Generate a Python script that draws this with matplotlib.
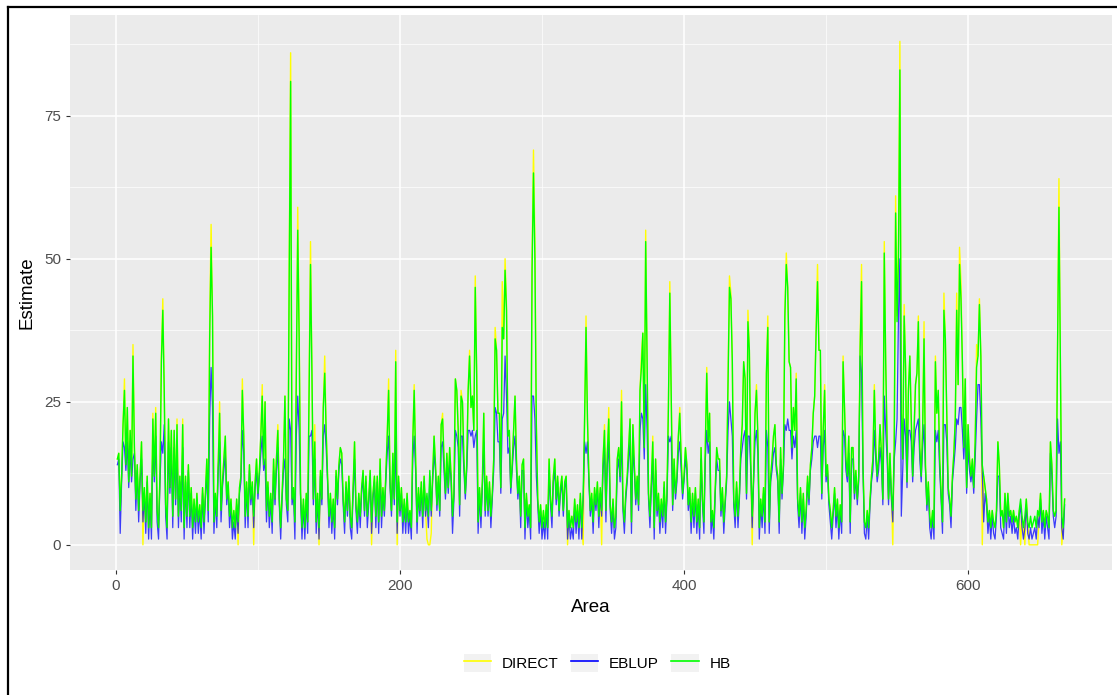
import numpy as np
import matplotlib
matplotlib.use("Agg")
import matplotlib.pyplot as plt
from matplotlib.lines import Line2D
from matplotlib.patches import Patch
from matplotlib.legend_handler import HandlerTuple

plt.rcParams['font.family'] = ['Liberation Sans', 'DejaVu Sans']

# estimates per area (1..668)
hb = [
    15,16,6,12,21,27,14,24,11,20,12,33,17,8,14,6,12,18,6,10,
    4,12,3,9,3,22,12,23,6,3,12,32,41,27,7,3,22,10,20,5,
    20,8,21,5,12,6,21,3,12,5,14,5,10,3,8,4,9,4,7,3,
    10,4,9,15,6,36,52,40,4,9,5,14,23,6,11,15,19,8,11,5,
    8,3,6,3,8,4,10,12,27,19,5,11,5,14,8,11,5,11,15,9,
    13,19,26,14,25,6,11,5,9,4,15,8,15,20,8,3,9,15,26,8,
    6,47,81,8,10,4,29,55,36,9,3,8,3,9,4,26,49,30,8,18,
    4,9,3,13,8,24,30,20,12,5,9,4,8,3,13,8,14,17,16,8,
    4,11,6,12,5,3,10,18,7,4,9,5,10,13,6,12,5,8,13,4,
    9,12,5,12,4,15,5,10,6,12,19,27,11,6,16,8,32,4,12,6,
    10,4,8,4,9,4,6,3,18,27,15,4,10,6,11,5,12,6,9,5,
    13,6,12,19,14,7,12,6,21,22,15,9,16,10,17,12,5,9,29,27,
    20,7,26,25,15,9,14,27,33,24,26,20,45,30,4,10,5,11,23,6,
    12,6,11,5,9,15,36,34,23,23,10,38,36,48,41,19,20,10,14,20,
    26,15,9,12,5,14,15,3,9,5,7,3,48,65,50,21,8,4,7,3,
    6,3,7,3,15,8,5,12,15,8,12,6,10,12,6,11,12,3,6,3,
    5,3,8,4,7,3,9,3,9,22,38,22,12,6,9,4,10,7,11,5,
    10,6,15,20,6,16,22,7,4,8,3,5,15,17,12,25,7,4,9,12,
    17,22,4,21,14,8,12,7,27,31,37,17,53,32,9,5,11,18,3,15,
    6,9,4,8,5,11,4,9,24,44,26,7,15,9,12,19,23,15,9,12,
    17,14,7,10,4,9,5,10,4,8,3,17,8,4,17,30,18,23,4,6,
    3,10,17,15,15,6,10,4,8,12,28,45,43,32,8,5,11,5,9,17,
    21,32,29,9,39,34,14,5,12,23,27,19,3,8,5,10,4,30,38,4,
    12,15,19,21,14,12,4,17,9,14,40,49,45,32,31,17,24,20,29,8,
    5,10,4,9,3,6,12,8,14,17,23,26,37,46,34,34,9,20,27,12,
    14,8,6,3,6,10,5,8,3,7,4,32,24,15,12,19,4,17,17,9,
    13,8,12,34,46,14,4,3,6,3,8,12,15,27,17,12,15,21,16,8,
    51,32,18,8,16,9,6,17,58,39,50,83,23,15,40,31,11,27,33,22,
    12,20,28,30,39,17,12,20,36,14,7,11,5,3,6,3,32,23,27,15,
    9,4,41,36,23,10,8,5,12,16,22,41,28,49,43,32,17,29,10,21,
    15,12,15,10,18,31,33,42,33,14,12,10,8,4,6,3,6,4,3,6,
    18,14,5,6,3,9,4,9,5,6,4,6,4,5,3,6,8,5,3,5,
    8,4,3,5,3,4,5,3,6,5,9,4,6,3,6,5,3,18,14,6,
    5,6,34,59,32,5,3,8,
]

eblup = [
    14,15,2,11,18,17,13,18,10,17,11,15,16,6,13,4,11,15,4,9,
    2,11,1,8,1,18,11,19,4,1,11,18,16,21,5,1,18,9,17,3,
    17,7,17,3,11,4,17,1,11,3,13,3,9,1,7,2,8,2,6,1,
    9,2,8,13,4,22,31,24,2,8,3,13,18,4,10,13,16,7,10,3,
    7,1,4,1,7,2,9,11,20,16,3,10,3,13,7,10,3,10,13,8,
    12,16,19,13,15,4,10,3,8,2,13,7,13,17,7,1,8,13,15,7,
    4,22,20,7,9,1,19,26,20,8,1,7,1,8,2,19,19,20,7,15,
    2,8,1,12,7,19,21,17,11,3,8,2,7,1,12,7,13,15,14,7,
    2,10,5,11,3,1,9,15,6,2,8,3,9,12,5,11,3,7,12,2,
    8,11,3,11,2,13,3,9,5,11,16,19,10,5,14,7,19,2,11,5,
    9,2,7,2,8,2,5,1,15,19,13,2,9,5,10,3,11,5,8,3,
    12,5,11,16,13,6,11,5,17,18,13,8,14,9,15,11,2,8,20,19,
    17,5,19,19,13,8,13,20,20,19,20,17,19,20,2,9,3,10,18,5,
    11,5,10,3,8,13,24,23,18,18,9,22,23,33,26,16,17,9,13,17,
    19,13,8,11,3,13,13,1,8,3,6,1,26,26,22,12,7,2,6,1,
    4,1,6,1,13,7,3,11,13,7,11,5,9,11,5,10,11,1,5,1,
    3,1,7,2,6,1,8,1,8,18,16,18,11,5,8,2,9,6,10,3,
    9,5,13,17,4,14,18,6,2,7,1,3,13,15,11,19,6,2,8,11,
    15,18,2,17,13,7,11,6,20,23,22,15,28,20,8,3,10,15,1,13,
    5,8,2,7,3,10,2,8,19,18,19,6,13,8,11,16,18,13,8,11,
    15,13,6,9,2,8,3,9,2,7,1,15,7,2,15,20,16,18,2,5,
    1,9,15,13,13,5,9,2,7,11,20,25,22,19,7,3,10,3,8,15,
    17,19,20,8,19,19,13,3,11,18,20,16,1,7,3,9,2,20,17,2,
    11,13,16,17,13,11,2,15,8,13,21,20,22,20,20,15,19,17,20,7,
    3,9,2,8,1,5,11,7,13,15,18,19,19,17,19,19,8,17,20,11,
    13,7,4,1,5,9,3,7,1,6,2,20,19,13,11,16,2,15,15,8,
    12,7,11,33,30,13,2,1,5,1,7,11,13,20,15,11,13,17,14,7,
    26,20,15,7,14,8,4,15,18,22,40,50,5,13,22,19,10,20,20,18,
    11,17,20,21,22,15,11,17,21,13,6,10,3,1,5,1,20,18,20,13,
    8,2,21,21,18,9,7,3,11,14,17,22,21,24,24,20,15,21,9,17,
    13,11,13,9,15,22,28,28,22,13,4,9,7,2,5,1,5,2,1,5,
    12,12,3,2,1,8,2,8,3,5,2,5,2,3,1,5,7,3,1,3,
    7,2,1,3,1,2,3,1,5,3,8,2,5,1,5,3,1,16,12,5,
    3,5,22,16,18,3,1,7,
]

direct = [
    15,16,6,12,21,29,14,24,11,20,12,35,17,8,14,6,12,18,0,10,
    4,12,3,9,3,23,12,24,6,3,12,33,43,27,7,3,22,10,20,5,
    20,8,22,5,12,6,22,3,12,5,14,5,10,3,8,4,9,4,7,3,
    10,4,9,15,6,39,56,40,4,9,5,14,25,6,11,15,19,8,11,5,
    8,3,6,3,8,0,10,12,29,19,5,11,5,14,8,11,0,11,15,9,
    13,19,28,14,25,6,11,5,9,4,15,8,15,21,8,3,9,15,26,8,
    6,49,86,8,10,4,30,59,38,9,3,8,3,9,4,28,53,30,8,21,
    4,9,0,13,8,24,33,20,12,5,9,4,8,3,13,8,14,17,16,8,
    4,11,6,12,5,3,10,18,7,4,9,5,10,13,6,12,5,8,13,0,
    9,12,5,12,4,15,5,10,6,12,19,29,11,6,16,8,34,0,12,6,
    10,4,8,4,9,4,6,3,18,28,15,4,10,6,11,5,12,6,1,0,
    0,2,12,19,14,7,12,6,21,23,15,9,16,10,17,12,5,9,29,27,
    20,7,27,25,15,9,14,27,34,24,26,20,47,30,4,10,5,11,23,6,
    12,6,11,5,9,15,38,34,23,23,10,46,36,50,42,19,20,10,14,20,
    26,15,9,12,5,14,15,3,9,5,7,3,50,69,53,21,8,4,7,3,
    6,3,7,3,15,8,5,12,15,8,12,6,10,12,6,11,12,0,6,3,
    5,3,8,4,7,3,9,3,0,22,40,22,12,6,9,4,10,7,11,5,
    10,0,15,21,6,16,24,7,4,8,3,5,15,17,12,27,7,4,9,12,
    17,22,4,21,14,8,12,7,27,33,37,17,55,32,9,5,11,19,3,15,
    6,9,4,8,5,11,4,9,24,46,26,7,15,9,12,19,24,15,9,12,
    17,14,7,10,4,9,5,10,4,8,3,17,8,4,17,31,18,23,4,6,
    3,10,17,15,15,6,10,4,8,12,29,47,44,32,8,5,11,5,9,17,
    21,32,29,9,41,34,14,0,12,23,28,19,3,8,5,10,4,30,40,4,
    12,15,19,21,14,12,4,17,9,14,40,51,45,32,31,17,24,20,30,8,
    5,10,4,9,3,6,12,8,14,17,23,26,38,49,34,34,9,20,28,12,
    14,8,6,3,6,10,5,8,3,7,4,33,24,15,12,19,4,17,17,9,
    13,8,12,36,49,14,4,3,6,3,8,12,15,28,17,12,15,21,16,8,
    53,32,18,8,16,9,0,17,61,40,53,88,23,15,42,31,11,27,33,22,
    12,20,28,30,40,17,12,20,39,14,7,11,5,3,6,3,33,23,27,15,
    9,4,44,36,23,10,8,5,12,16,22,44,28,52,46,32,17,29,10,21,
    15,12,15,10,18,35,33,43,33,0,12,10,8,4,6,3,6,4,3,6,
    18,14,5,6,3,9,4,9,5,6,4,6,4,5,3,6,0,5,3,0,
    8,4,0,0,0,0,0,0,0,5,9,4,6,3,6,5,3,18,14,6,
    5,6,36,64,32,0,3,8,
]

series = ['DIRECT', 'EBLUP', 'HB']
colors = ['yellow', 'blue', '#00FF00']

area = np.arange(1, len(hb) + 1)

fig = plt.figure(figsize=(11.17, 6.95), dpi=100)
ax = fig.add_axes([70/1117, 125/695, 1042/1117, 555/695])
ax.set_facecolor('#EBEBEB')

for name, vals, col, a, w in zip(series, [direct, eblup, hb], colors,
                                 [1.0, 0.75, 1.0], [1.0, 0.9, 1.0]):
    ax.plot(area, vals, color=col, lw=w, alpha=a, label=name)

n = len(hb)
ax.set_xlim(1 - 0.05*(n - 1), n + 0.05*(n - 1))
ax.set_ylim(-4.4, 92.6)
ax.set_xticks([0, 200, 400, 600])
ax.set_xticks([100, 300, 500], minor=True)
ax.set_yticks([0, 25, 50, 75])
ax.set_yticks([12.5, 37.5, 62.5, 87.5], minor=True)
ax.grid(which='major', color='white', lw=1.1)
ax.grid(which='minor', color='white', lw=0.5)
ax.set_axisbelow(True)
for s in ax.spines.values():
    s.set_visible(False)
ax.tick_params(which='major', length=3, color='#333333', labelcolor='#4D4D4D', labelsize=11)
ax.tick_params(which='minor', length=0)

ax.set_xlabel('Area', fontsize=13.5, labelpad=4)
ax.set_ylabel('Estimate', fontsize=13.5, labelpad=6)

# legend keys with the grey ggplot key background
handles = [(Patch(facecolor='#F2F2F2', edgecolor='none'), Line2D([], [], color=c, lw=1.2))
           for c in colors]
fig.legend(handles, series, handler_map={tuple: HandlerTuple(ndivide=1, pad=0)},
           loc='center', bbox_to_anchor=(597/1117, 1 - 663/695), ncol=3,
           frameon=False, fontsize=11, handlelength=1.8, handleheight=1.5,
           columnspacing=0.8, handletextpad=0.7)

# outer frame (left and top edges only, as in the reference)
fig.add_artist(Line2D([8/1117, 8/1117], [0, 1 - 7/695], color='black', lw=1.6,
                      transform=fig.transFigure))
fig.add_artist(Line2D([8/1117, 1], [1 - 7/695, 1 - 7/695], color='black', lw=1.6,
                      transform=fig.transFigure))

fig.savefig('out.png', dpi=100)
